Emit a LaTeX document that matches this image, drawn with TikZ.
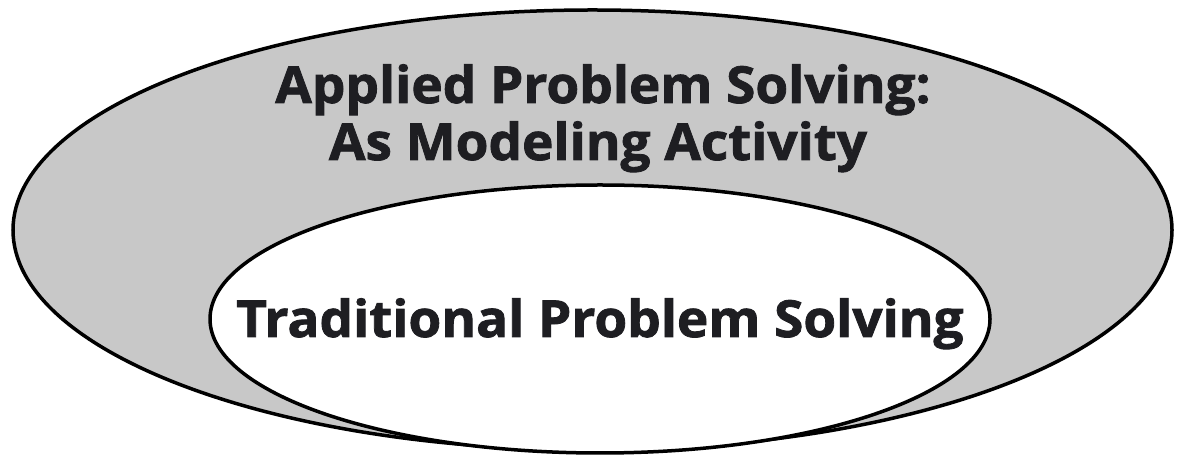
\documentclass[tikz,border=0pt]{standalone}
\usepackage{fontspec}
\setmainfont{Open Sans}
\newfontfamily\headfont{Open Sans}[FakeBold=1.6, FakeStretch=1.04]
\usetikzlibrary{shapes.geometric}
\definecolor{shade}{HTML}{C8C8C8}
\definecolor{ink}{HTML}{1E1E22}
\tikzset{
  ring/.style={draw=black, line width=3.5pt, ellipse, inner sep=0pt},
  lbl/.style={text=ink, font=\headfont\fontsize{51}{57}\selectfont\bfseries, align=center, inner sep=0pt}
}
\begin{document}
\begin{tikzpicture}[x=1pt,y=1pt]
\useasboundingbox (0,0) rectangle (1180,457);
\node[ring, fill=shade, minimum width=1159pt, minimum height=440pt] (outer) at (592.5,227) {};
\node[ring, fill=white, minimum width=780pt, minimum height=268pt] (inner) at (600,138) {};
\node[lbl, anchor=base] (t1) at (603,354) {Applied Problem Solving:};
\node[lbl, anchor=base] (t2) at (598,297) {As Modeling Activity};
\node[lbl, anchor=base] (t3) at (600,120) {Traditional Problem Solving};
\end{tikzpicture}
\end{document}
